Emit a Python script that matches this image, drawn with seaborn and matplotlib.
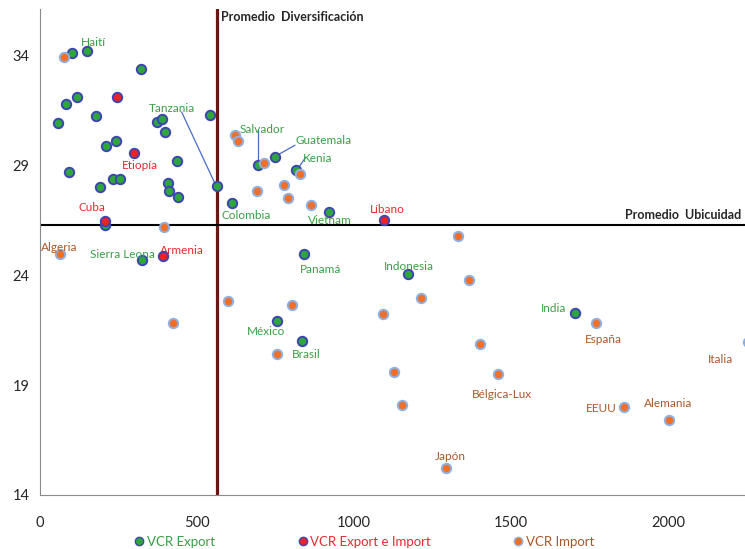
import matplotlib
matplotlib.use("Agg")
import matplotlib.pyplot as plt
from matplotlib.lines import Line2D
import pandas as pd
import seaborn as sns

# diversificacion (x) / ubicuidad media (y)
export_x = [102, 150, 322, 118, 82, 178, 58, 372, 389, 541, 397, 210, 241, 436, 93, 231, 255,
            191, 409, 412, 439, 563, 695, 748, 814, 610, 919, 207, 326, 841, 1173, 754, 833, 1705]
export_y = [34.1, 34.2, 33.36, 32.1, 31.8, 31.24, 30.9, 30.97, 31.1, 31.3, 30.5, 29.86, 30.1, 29.2,
            28.7, 28.35, 28.35, 27.99, 28.2, 27.82, 27.56, 28.05, 29.0, 29.38, 28.77, 27.29, 26.88,
            26.27, 24.68, 24.94, 24.05, 21.9, 21.0, 22.26]

expimp_x = [244, 300, 207, 391, 1097]
expimp_y = [32.1, 29.56, 26.47, 24.86, 26.5]

import_x = [76, 621, 632, 714, 690, 829, 778, 789, 864, 395, 64, 598, 425, 1213, 1332, 1366, 802,
            1091, 754, 1401, 1128, 1459, 1771, 1152, 1861, 2004, 1293, 2255]
import_y = [33.9, 30.36, 30.1, 29.08, 27.83, 28.59, 28.1, 27.49, 27.2, 26.17, 24.95, 22.82, 21.8,
            22.95, 25.8, 23.77, 22.64, 22.23, 20.4, 20.85, 19.6, 19.5, 21.83, 18.1, 17.99, 17.42,
            15.21, 20.97]

prom_diversificacion = 565
prom_ubicuidad = 26.3

# etiquetas de paises: (texto, x, y, grupo)
etiquetas = [
    ("Haití", 169, 34.59, "exp"), ("Tanzania", 420, 31.59, "exp"), ("Etiopía", 318, 29.0, "ei"),
    ("Salvador", 707, 30.64, "exp"), ("Guatemala", 904, 30.14, "exp"), ("Kenia", 885, 29.32, "exp"),
    ("Colombia", 656, 26.73, "exp"), ("Vietnam", 924, 26.5, "exp"), ("Líbano", 1105, 27.0, "ei"),
    ("Cuba", 166, 27.09, "ei"), ("Algeria", 61, 25.27, "imp"), ("Sierra Leona", 264, 24.95, "exp"),
    ("Armenia", 452, 25.14, "ei"), ("Panamá", 892, 24.27, "exp"), ("Indonesia", 1175, 24.41, "exp"),
    ("México", 720, 21.45, "exp"), ("Brasil", 847, 20.41, "exp"), ("India", 1634, 22.5, "exp"),
    ("España", 1793, 21.05, "imp"), ("Italia", 2166, 20.14, "imp"), ("Bélgica-Lux", 1471, 18.59, "imp"),
    ("EEUU", 1787, 17.95, "imp"), ("Alemania", 2000, 18.18, "imp"), ("Japón", 1306, 15.77, "imp"),
]
# lineas guia (x0, y0, x1, y1)
guias = [(451, 31.42, 561, 28.05), (694, 30.59, 694, 29.09),
         (812, 29.91, 755, 29.45), (846, 29.36, 822, 28.86)]

col_txt = {"exp": "#3a9e46", "ei": "#e42a32", "imp": "#a8582a"}

sns.set_style("white")
plt.rcParams['font.family'] = ['Lato', 'DejaVu Sans']

fig = plt.figure(figsize=(7.45, 5.49), dpi=100)
ax = fig.add_axes([0.0537, 0.0984, 0.9463, 0.885])

df_exp = pd.DataFrame({"x": export_x, "y": export_y})
df_ei = pd.DataFrame({"x": expimp_x, "y": expimp_y})
df_imp = pd.DataFrame({"x": import_x, "y": import_y})

sns.scatterplot(data=df_exp, x="x", y="y", ax=ax, s=46, color="#2ea63c",
                edgecolor="#3d45b0", linewidth=1.4, zorder=3)
sns.scatterplot(data=df_imp, x="x", y="y", ax=ax, s=46, color="#f0702a",
                edgecolor="#8fb0e0", linewidth=1.4, zorder=3)
sns.scatterplot(data=df_ei, x="x", y="y", ax=ax, s=46, color="#ee2222",
                edgecolor="#3d45b0", linewidth=1.4, zorder=4)

ax.axvline(prom_diversificacion, color="#6b1515", lw=2.3, zorder=2)
ax.axhline(prom_ubicuidad, color="black", lw=1.5, zorder=2)
ax.text(prom_diversificacion + 12, 35.73, "Promedio  Diversificación", fontsize=9,
        fontweight="bold", va="center", ha="left")
ax.text(2232, prom_ubicuidad + 0.15, "Promedio  Ubicuidad", fontsize=9,
        fontweight="bold", va="bottom", ha="right")

for nombre, tx, ty, g in etiquetas:
    ax.text(tx, ty, nombre, color=col_txt[g], fontsize=8.5, ha="center", va="center")
for x0, y0, x1, y1 in guias:
    ax.plot([x0, x1], [y0, y1], color="#4a6cc4", lw=0.9, zorder=2)

ax.set_xlim(0, 2245)
ax.set_ylim(14, 36.1)
ax.set_xticks([0, 500, 1000, 1500, 2000])
ax.set_yticks([14, 19, 24, 29, 34])
ax.set_xlabel("")
ax.set_ylabel("")
sns.despine(ax=ax)
for s in ["left", "bottom"]:
    ax.spines[s].set_color("#8a8a8a")
ax.tick_params(axis="both", direction="out", length=4, color="#8a8a8a", labelsize=10.5)
ax.tick_params(axis="x", pad=11)

handles = [
    Line2D([], [], marker="o", ls="", markersize=6, markerfacecolor="#2ea63c", markeredgecolor="#3d45b0"),
    Line2D([], [], marker="o", ls="", markersize=6, markerfacecolor="#ee2222", markeredgecolor="#3d45b0"),
    Line2D([], [], marker="o", ls="", markersize=6, markerfacecolor="#f0702a", markeredgecolor="#8fb0e0"),
]
fig.legend(handles, ["VCR Export", "VCR Export e Import", "VCR Import"], loc="lower center",
           bbox_to_anchor=(0.49, -0.02), ncol=3, frameon=False, fontsize=9.5, handlelength=0.6,
           handletextpad=0.3, columnspacing=6.3,
           labelcolor=[col_txt["exp"], col_txt["ei"], col_txt["imp"]])

fig.savefig("out.png", dpi=100)
